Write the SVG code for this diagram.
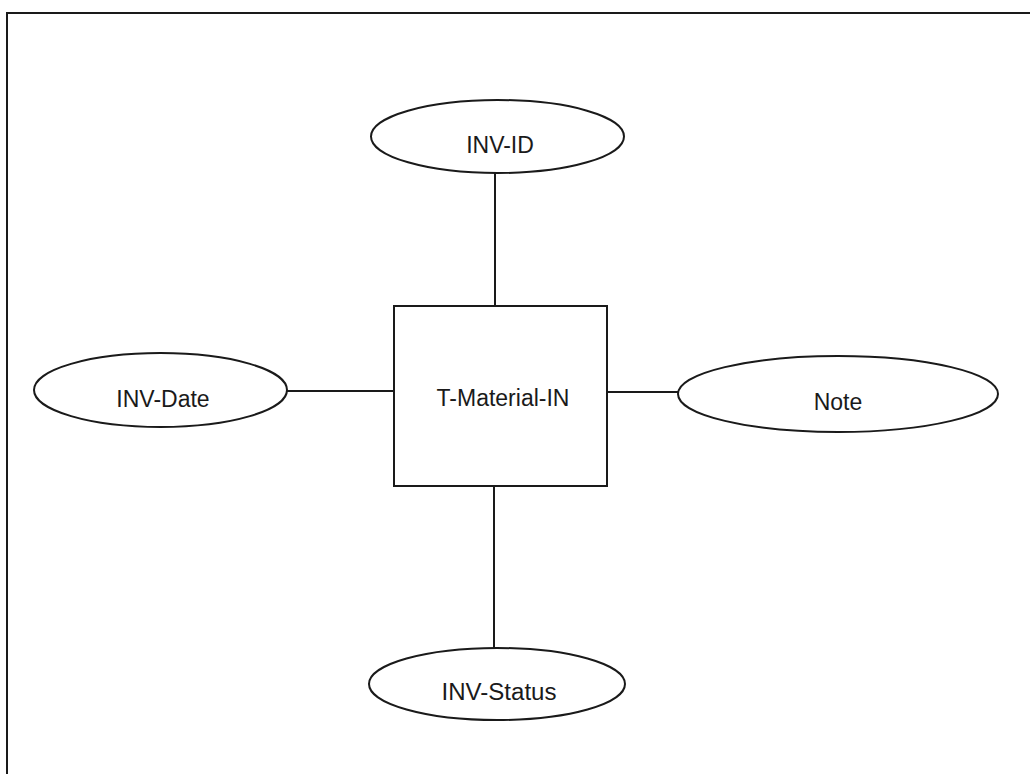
<svg xmlns="http://www.w3.org/2000/svg" width="1030" height="774" viewBox="0 0 1030 774">
<style>
.shape{fill:#fff;stroke:#1a1a1a;stroke-width:2}
.line{stroke:#1a1a1a;stroke-width:2;fill:none}
.lbl{font-family:"Liberation Sans",Arial,sans-serif;font-size:23px;fill:#1a1a1a;text-anchor:middle}
</style>
<rect width="1030" height="774" fill="#fff"/>
<path class="line" d="M1030 13 H7 V774"/>
<g id="connectors">
<line class="line" x1="495" y1="173" x2="495" y2="306"/>
<line class="line" x1="287" y1="391" x2="394" y2="391"/>
<line class="line" x1="607" y1="392" x2="678" y2="392"/>
<line class="line" x1="494" y1="486" x2="494" y2="648"/>
</g>
<g id="entity-t-material-in">
<rect class="shape" x="394" y="306" width="213" height="180"/>
<text class="lbl" x="503" y="406">T-Material-IN</text>
</g>
<g id="attr-inv-id">
<ellipse class="shape" cx="497.5" cy="136.5" rx="126.5" ry="36.5"/>
<text class="lbl" x="500" y="153">INV-ID</text>
</g>
<g id="attr-inv-date">
<ellipse class="shape" cx="160.5" cy="390" rx="126.5" ry="37"/>
<text class="lbl" x="163" y="407">INV-Date</text>
</g>
<g id="attr-note">
<ellipse class="shape" cx="838" cy="394" rx="160" ry="38"/>
<text class="lbl" x="838" y="410">Note</text>
</g>
<g id="attr-inv-status">
<ellipse class="shape" cx="497" cy="684" rx="128" ry="36"/>
<text class="lbl" x="499" y="700" textLength="115" lengthAdjust="spacingAndGlyphs">INV-Status</text>
</g>
</svg>
